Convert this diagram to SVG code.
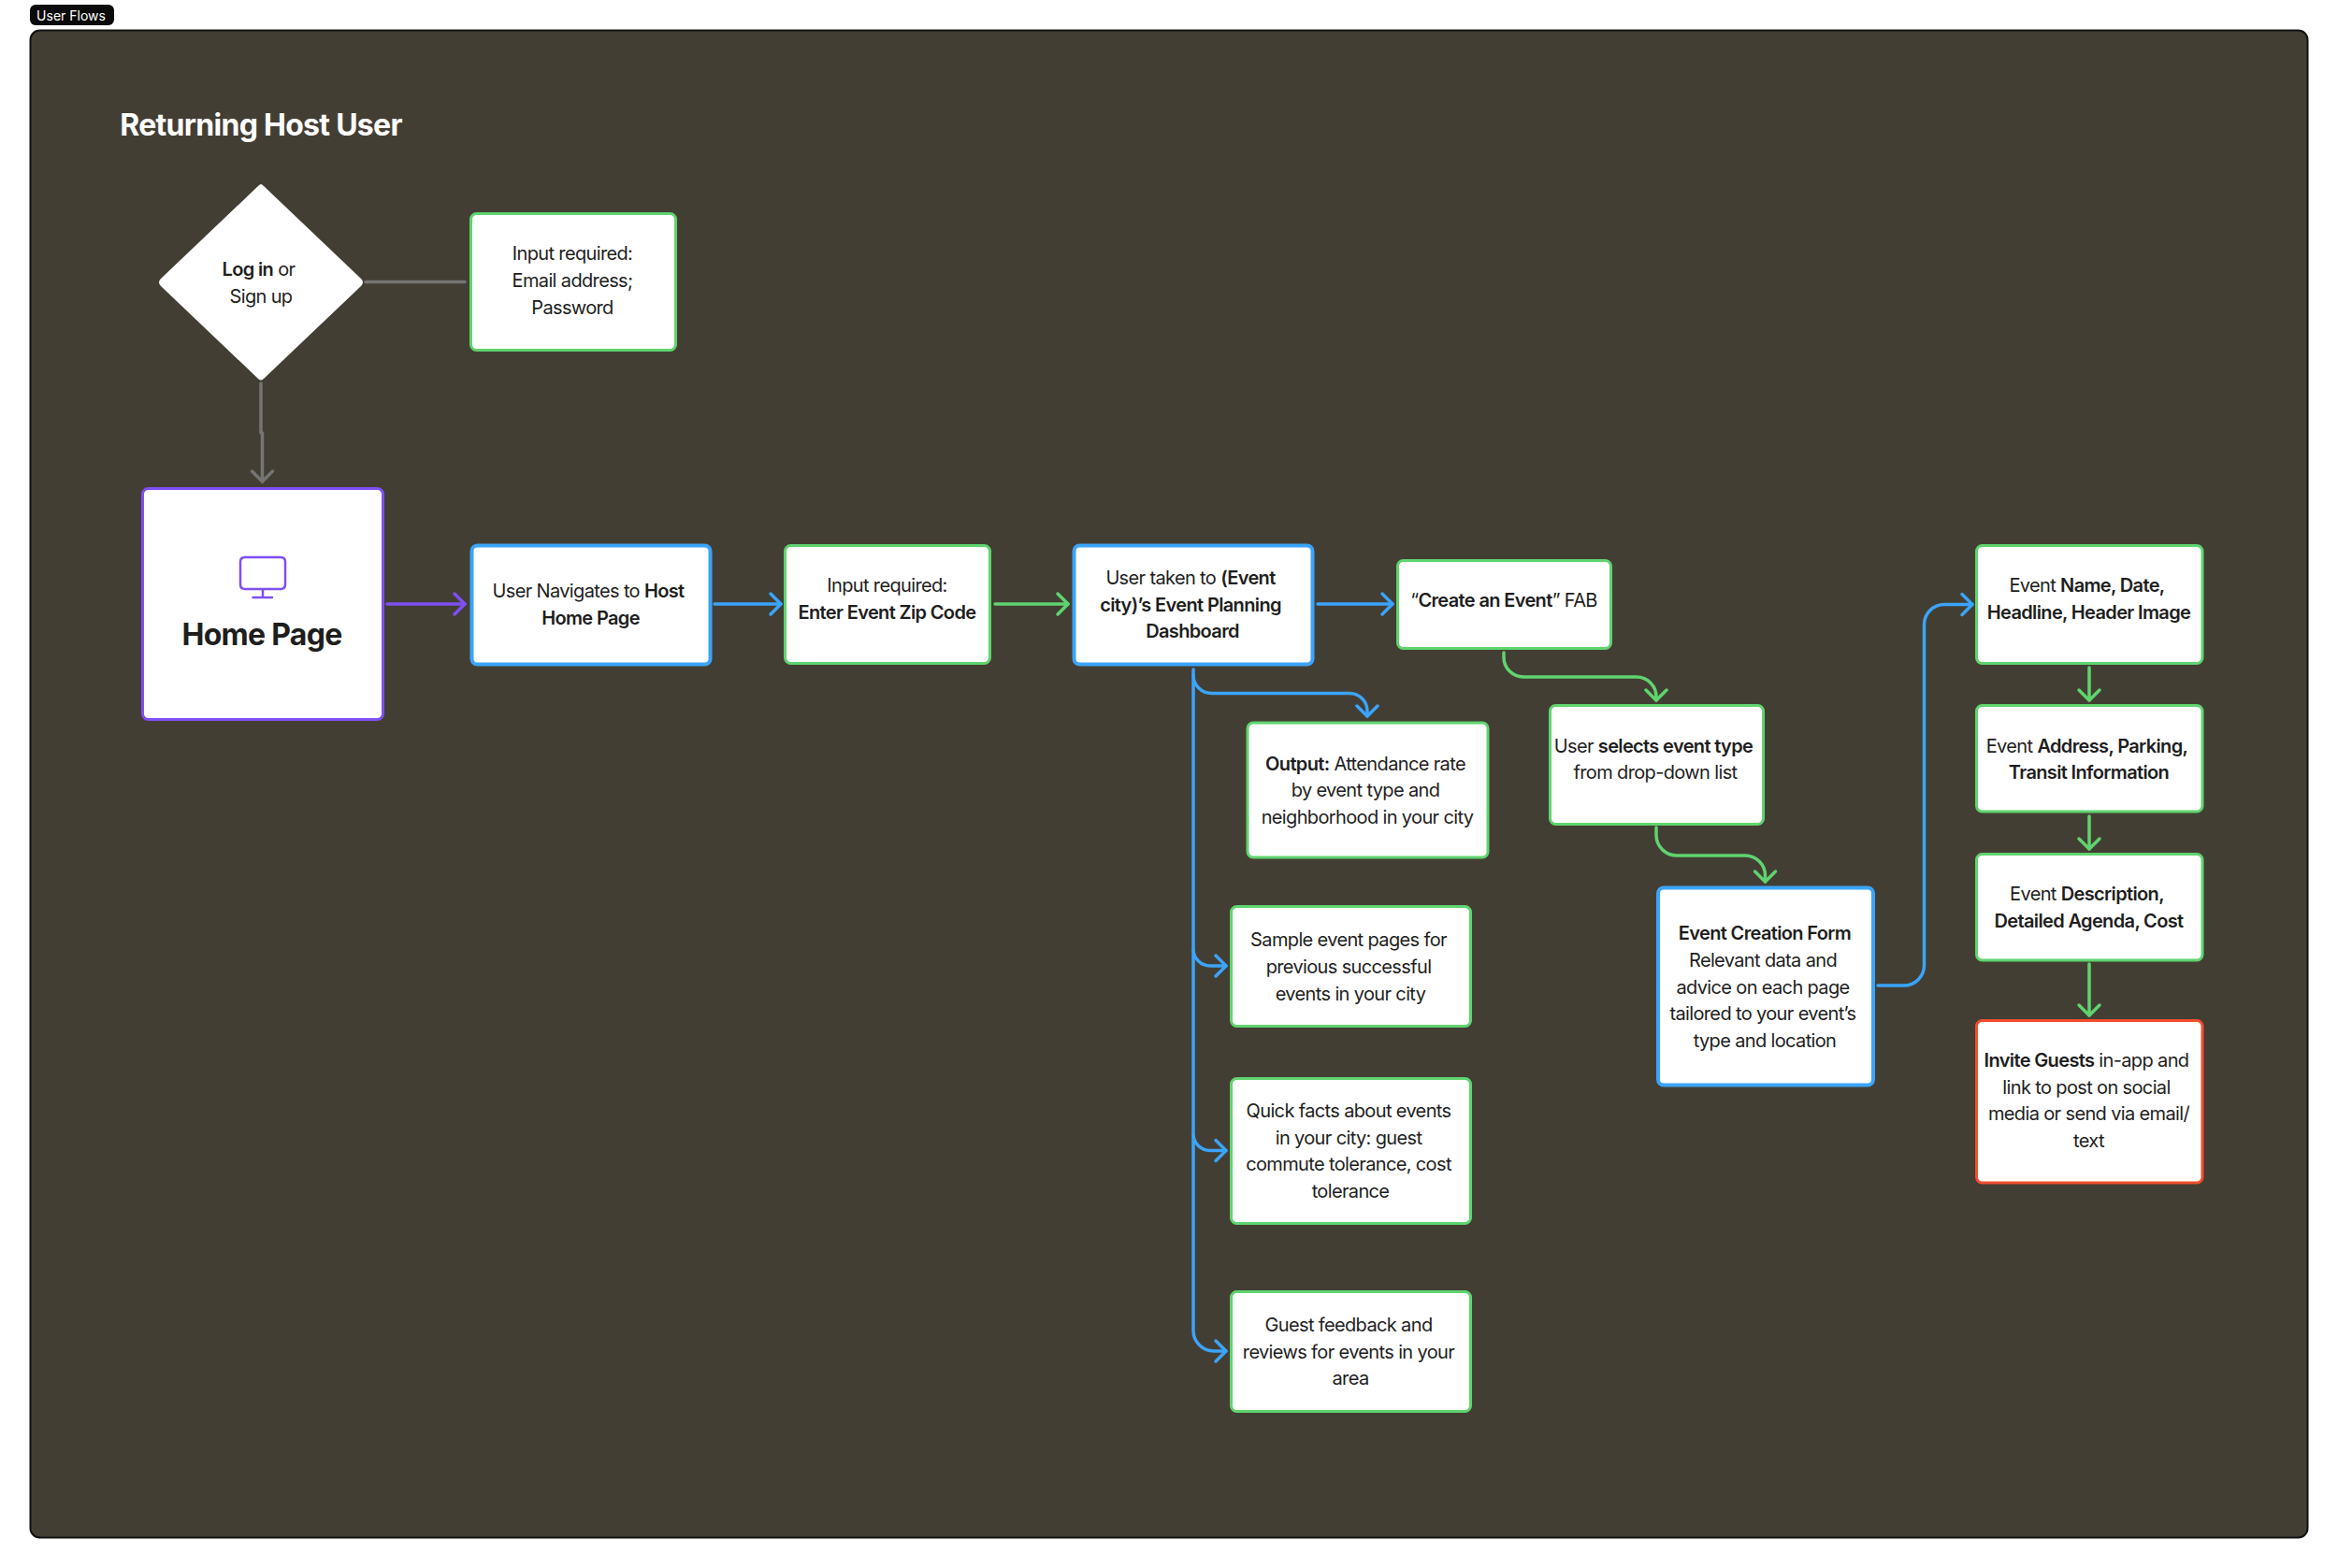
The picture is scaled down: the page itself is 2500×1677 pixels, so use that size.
<svg xmlns="http://www.w3.org/2000/svg" width="2500" height="1677" viewBox="0 0 2500 1677">
<style>
text{font-family:Inter,"Liberation Sans",sans-serif;font-size:20px;fill:#1e1e1e;text-anchor:middle;letter-spacing:-.64px}
.b{font-weight:600}
.h{font-size:32px;font-weight:700;letter-spacing:-.72px}
.box{fill:#fff;stroke-width:3}
.g{stroke:#5fd46f}.bl{stroke:#3ba4fb;stroke-width:4}.p{stroke:#7f4ff5}.r{stroke:#f24e2e}
.c{fill:none;stroke-width:3.5;stroke-linecap:round;stroke-linejoin:round}
.cg{stroke:#5fd46f}.cb{stroke:#3ba4fb}.cp{stroke:#7f4ff5}.cy{stroke:#757575}
.mh{fill:none;stroke-width:3.5;stroke-linecap:round;stroke-linejoin:round}
</style>
<defs>
<marker id="ag" markerUnits="userSpaceOnUse" markerWidth="30" markerHeight="30" refX="14" refY="15" orient="auto"><path class="mh" stroke="#5fd46f" d="M3 4L14 15L3 26"/></marker>
<marker id="ab" markerUnits="userSpaceOnUse" markerWidth="30" markerHeight="30" refX="14" refY="15" orient="auto"><path class="mh" stroke="#3ba4fb" d="M3 4L14 15L3 26"/></marker>
<marker id="ap" markerUnits="userSpaceOnUse" markerWidth="30" markerHeight="30" refX="14" refY="15" orient="auto"><path class="mh" stroke="#7f4ff5" d="M3 4L14 15L3 26"/></marker>
<marker id="ay" markerUnits="userSpaceOnUse" markerWidth="30" markerHeight="30" refX="14" refY="15" orient="auto"><path class="mh" stroke="#757575" d="M3 4L14 15L3 26"/></marker>
</defs>
<rect width="2500" height="1677" fill="#fff"/>
<g id="section-label"><rect x="32" y="5" width="90" height="22" rx="6" fill="#0a0a0a"/><text x="76" y="22" style="font-size:14px;fill:#fff;letter-spacing:0">User Flows</text></g>
<g id="frame"><rect x="32.5" y="32.5" width="2435" height="1612" rx="10" fill="#433e33" stroke="#111" stroke-width="2"/></g>
<text id="title" x="279" y="145" class="h" style="fill:#fff">Returning Host User</text>

<g id="connectors">
<path class="c cy" d="M391 301.500H497"/>
<path class="c cy" d="M279 410V463H280.500V515" marker-end="url(#ay)"/>
<path class="c cp" d="M414 646H497" marker-end="url(#ap)"/>
<path class="c cb" d="M764 646H835" marker-end="url(#ab)"/>
<path class="c cg" d="M1064 646H1142" marker-end="url(#ag)"/>
<path class="c cb" d="M1409 646H1489" marker-end="url(#ab)"/>
<path class="c cb" d="M1276 716V1423A22 22 0 0 0 1298 1445H1311" marker-end="url(#ab)"/>
<path class="c cb" d="M1276 722A19.500 19.500 0 0 0 1295.500 741.500H1443A19 19 0 0 1 1462 760.500V766" marker-end="url(#ab)"/>
<path class="c cb" d="M1276 1016A18 18 0 0 0 1294 1033H1311" marker-end="url(#ab)"/>
<path class="c cb" d="M1276 1214A18 18 0 0 0 1294 1230.500H1311" marker-end="url(#ab)"/>
<path class="c cg" d="M1608 698V703A21 21 0 0 0 1629 724H1750A21 21 0 0 1 1771 745V749" marker-end="url(#ag)"/>
<path class="c cg" d="M1771 885V893A22 22 0 0 0 1793 915H1866A21.500 21.500 0 0 1 1887.500 936.500V943" marker-end="url(#ag)"/>
<path class="c cb" d="M2008 1054H2036A21.500 21.500 0 0 0 2057.500 1032.500V668A21.500 21.500 0 0 1 2079 646.500H2109" marker-end="url(#ab)"/>
<path class="c cg" d="M2234 714V749" marker-end="url(#ag)"/>
<path class="c cg" d="M2234 873V908" marker-end="url(#ag)"/>
<path class="c cg" d="M2234 1031V1086" marker-end="url(#ag)"/>
</g>

<g id="login"><path d="M279 197Q280 197 282 199L386 298Q390 302 386 306L282 405Q279 408 276 405L172 306Q168 302 172 298L276 199Q278 197 279 197Z" fill="#fff"/>
<text><tspan x="276.500" y="295"><tspan class="b">Log in</tspan> or</tspan><tspan x="279" y="324">Sign up</tspan></text></g>
<g id="input-credentials"><rect class="box g" x="503.500" y="228.500" width="219" height="146" rx="6"/>
<text><tspan x="612" y="278">Input required:</tspan><tspan x="612" y="307">Email address;</tspan><tspan x="612" y="336">Password</tspan></text></g>
<g id="home"><rect class="box p" x="152.500" y="522.500" width="257" height="247" rx="6"/>
<path d="M262 596H300Q305 596 305 601V625Q305 630 300 630H262Q257 630 257 625V601Q257 596 262 596ZM281 630V639M270.500 639H291" fill="none" stroke="#7f4ff5" stroke-width="2.500" stroke-linecap="round"/>
<text x="280" y="690" class="h">Home Page</text></g>
<g id="navigate"><rect class="box bl" x="504.500" y="583.500" width="255" height="127" rx="6"/>
<text><tspan x="629" y="639">User Navigates to <tspan class="b">Host</tspan></tspan><tspan x="631.500" y="668" class="b">Home Page</tspan></text></g>
<g id="zip"><rect class="box g" x="839.500" y="583.500" width="219" height="126" rx="6"/>
<text><tspan x="948.500" y="633">Input required:</tspan><tspan x="948.500" y="661.500" class="b">Enter Event Zip Code</tspan></text></g>
<g id="dashboard"><rect class="box bl" x="1148.500" y="583.500" width="255" height="127" rx="6"/>
<text><tspan x="1273" y="625">User taken to <tspan class="b">(Event</tspan></tspan><tspan x="1273" y="653.500" class="b">city)’s Event Planning</tspan><tspan x="1275" y="682" class="b">Dashboard</tspan></text></g>
<g id="create"><rect class="box g" x="1494.500" y="599.500" width="228" height="94" rx="6"/>
<text x="1608" y="649">“<tspan class="b">Create an Event</tspan>” FAB</text></g>
<g id="output"><rect class="box g" x="1334" y="773" width="257" height="144" rx="6"/>
<text><tspan x="1460" y="823.500"><tspan class="b">Output:</tspan> Attendance rate</tspan><tspan x="1460" y="852">by event type and</tspan><tspan x="1462" y="881">neighborhood in your city</tspan></text></g>
<g id="sample"><rect class="box g" x="1316.500" y="969.500" width="256" height="128" rx="6"/>
<text><tspan x="1442" y="1012">Sample event pages for</tspan><tspan x="1442" y="1041">previous successful</tspan><tspan x="1444" y="1070">events in your city</tspan></text></g>
<g id="quick"><rect class="box g" x="1316.500" y="1153.500" width="256" height="155" rx="6"/>
<text><tspan x="1442" y="1195">Quick facts about events</tspan><tspan x="1442" y="1223.500">in your city: guest</tspan><tspan x="1442" y="1252">commute tolerance, cost</tspan><tspan x="1444" y="1281">tolerance</tspan></text></g>
<g id="guest"><rect class="box g" x="1316.500" y="1381.500" width="256" height="128" rx="6"/>
<text><tspan x="1442" y="1424">Guest feedback and</tspan><tspan x="1442" y="1452.500">reviews for events in your</tspan><tspan x="1444" y="1481">area</tspan></text></g>
<g id="select"><rect class="box g" x="1657.500" y="754.500" width="228" height="127" rx="6"/>
<text><tspan x="1768" y="804.500">User <tspan class="b">selects event type</tspan></tspan><tspan x="1770" y="833">from drop-down list</tspan></text></g>
<g id="form"><rect class="box bl" x="1773" y="949.500" width="230" height="211" rx="6"/>
<text><tspan x="1887" y="1004.500" class="b">Event Creation Form</tspan><tspan x="1885" y="1033.500">Relevant data and</tspan><tspan x="1885" y="1062.500">advice on each page</tspan><tspan x="1885" y="1091">tailored to your event’s</tspan><tspan x="1887" y="1120">type and location</tspan></text></g>
<g id="name"><rect class="box g" x="2113.500" y="583.500" width="241.500" height="126" rx="6"/>
<text><tspan x="2231.500" y="633">Event <tspan class="b">Name, Date,</tspan></tspan><tspan x="2233.500" y="662" class="b">Headline, Header Image</tspan></text></g>
<g id="address"><rect class="box g" x="2113.500" y="754.500" width="241.500" height="113.500" rx="6"/>
<text><tspan x="2231.500" y="804.500">Event <tspan class="b">Address, Parking,</tspan></tspan><tspan x="2233.500" y="833" class="b">Transit Information</tspan></text></g>
<g id="description"><rect class="box g" x="2113.500" y="913.500" width="241.500" height="113.500" rx="6"/>
<text><tspan x="2231.500" y="963">Event <tspan class="b">Description,</tspan></tspan><tspan x="2233.500" y="991.500" class="b">Detailed Agenda, Cost</tspan></text></g>
<g id="invite"><rect class="box r" x="2113.500" y="1091.500" width="241.500" height="173.500" rx="6"/>
<text><tspan x="2231" y="1141"><tspan class="b">Invite Guests</tspan> in-app and</tspan><tspan x="2231" y="1169.500">link to post on social</tspan><tspan x="2233.500" y="1198">media or send via email/</tspan><tspan x="2233.500" y="1227">text</tspan></text></g>
</svg>
